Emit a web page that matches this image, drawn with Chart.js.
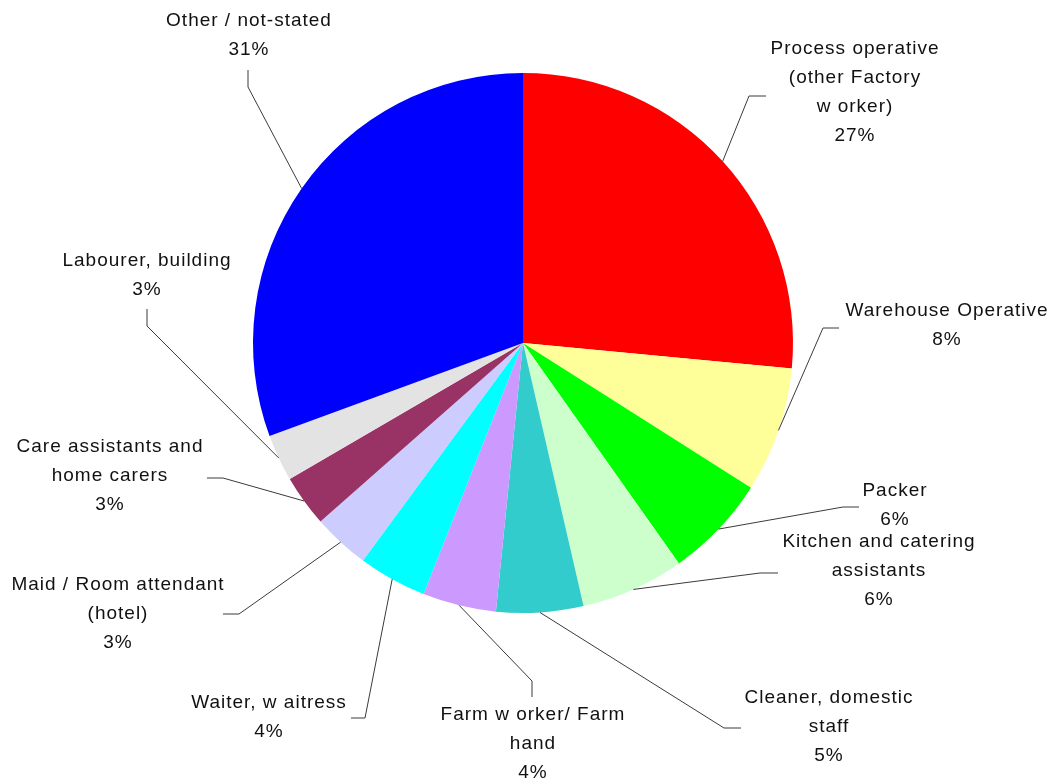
<!DOCTYPE html>
<html>
<head>
<meta charset="utf-8">
<script src="https://cdn.jsdelivr.net/npm/chart.js@4/dist/chart.umd.min.js"></script>
<style>
  html, body { margin: 0; padding: 0; background: #fff; }
  #c { display: block; }
</style>
</head>
<body>
<canvas id="c" width="1053" height="781"></canvas>
<script>
// ---- data ----
const categories = [
  "Process operative\n(other Factory\nw orker)",
  "Warehouse Operative",
  "Packer",
  "Kitchen and catering\nassistants",
  "Cleaner, domestic\nstaff",
  "Farm w orker/ Farm\nhand",
  "Waiter, w aitress",
  "Maid / Room attendant\n(hotel)",
  "Care assistants and\nhome carers",
  "Labourer, building",
  "Other / not-stated"
];
const shares = [26.5, 7.5, 6.2, 6.2, 5.2, 4.4, 4.1, 3.4, 3.1, 2.8, 30.6];
const colors = ["#FF0000", "#FFFF99", "#00FF00", "#CCFFCC", "#33CCCC", "#CC99FF",
                "#00FFFF", "#CCCCFF", "#993366", "#E3E3E3", "#0000FF"];

// ---- label layout (leader elbow, leader end, label centre x / first line y) ----
const labelLayout = [
  { elbow: [749, 96],  end: [766, 96],  x: 855, y: 49 },
  { elbow: [823, 328], end: [839, 328], x: 947, y: 311 },
  { elbow: [843, 507], end: [859, 507], x: 895, y: 491 },
  { elbow: [760, 573], end: [778, 573], x: 879, y: 542 },
  { elbow: [724, 728], end: [741, 728], x: 829, y: 698 },
  { elbow: [532, 681], end: [532, 697], x: 533, y: 715 },
  { elbow: [365, 718], end: [351, 718], x: 269, y: 703 },
  { elbow: [239, 614], end: [223, 614], x: 118, y: 585 },
  { elbow: [223, 478], end: [207, 478], x: 110, y: 447 },
  { elbow: [147, 326], end: [147, 309], x: 147, y: 261 },
  { elbow: [248, 87],  end: [248, 70],  x: 249, y: 21 }
];
const lineHeight = 29;

const total = shares.reduce((a, b) => a + b, 0);

const leaderPlugin = {
  id: 'leaders',
  afterDatasetsDraw(chart) {
    const ctx = chart.ctx;
    const meta = chart.getDatasetMeta(0);
    ctx.save();
    meta.data.forEach((arc, i) => {
      const p = arc.getProps(['x', 'y', 'startAngle', 'endAngle', 'outerRadius'], true);
      const mid = (p.startAngle + p.endAngle) / 2;
      const sx = p.x + Math.cos(mid) * p.outerRadius;
      const sy = p.y + Math.sin(mid) * p.outerRadius;
      const L = labelLayout[i];
      ctx.strokeStyle = '#3a3a3a';
      ctx.lineWidth = 1;
      ctx.beginPath();
      ctx.moveTo(sx, sy);
      ctx.lineTo(L.elbow[0], L.elbow[1]);
      ctx.lineTo(L.end[0], L.end[1]);
      ctx.stroke();

      const lines = categories[i].split('\n');
      lines.push(Math.round(shares[i] / total * 100) + '%');
      ctx.fillStyle = '#111';
      ctx.font = '19px "Liberation Sans", Arial, sans-serif';
      ctx.letterSpacing = '1px';
      ctx.textAlign = 'center';
      ctx.textBaseline = 'middle';
      lines.forEach((t, k) => {
        ctx.fillText(t, L.x, L.y + k * lineHeight);
      });
    });
    ctx.restore();
  }
};

new Chart(document.getElementById('c'), {
  type: 'pie',
  data: {
    labels: categories.map(s => s.replace(/\n/g, ' ')),
    datasets: [{
      data: shares,
      backgroundColor: colors,
      borderWidth: 0
    }]
  },
  options: {
    responsive: false,
    animation: false,
    layout: { padding: { top: 73, bottom: 168, left: 200, right: 207 } },
    plugins: {
      legend: { display: false },
      tooltip: { enabled: false }
    }
  },
  plugins: [leaderPlugin]
});
</script>
</body>
</html>
